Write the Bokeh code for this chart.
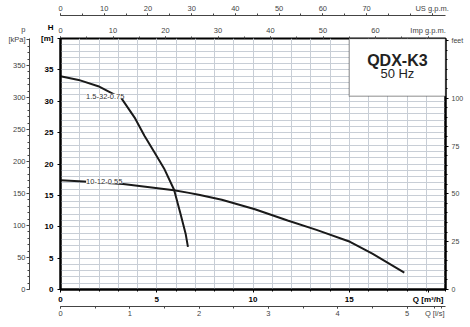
from bokeh.plotting import figure
from bokeh.models import LinearAxis, Range1d, FixedTicker, Grid, Label, BoxAnnotation
from bokeh.embed import file_html
from bokeh.resources import INLINE

# ---- data ----
q_a = [0, 0.94, 1.96, 3.16, 3.85, 4.36, 4.87, 5.38, 5.9, 6.24, 6.5, 6.62]
h_a = [34.0, 33.4, 32.4, 30.5, 27.4, 24.5, 21.9, 19.3, 15.9, 12.0, 8.9, 6.8]
q_b = [0, 1.2, 3.25, 5.9, 6.67, 7.18, 8.38, 10.1, 11.8, 13.3, 15.04, 16.2, 17.86]
h_b = [17.4, 17.2, 16.8, 15.8, 15.4, 15.1, 14.3, 12.8, 11.0, 9.5, 7.6, 5.7, 2.7]
name_a = "1.5-32-0.75"
name_b = "10-12-0.55"
title = "QDX-K3"
subtitle = "50 Hz"

q_ticks = [0, 5, 10, 15]
h_ticks = [0, 5, 10, 15, 20, 25, 30, 35]
kpa_ticks = [0, 50, 100, 150, 200, 250, 300, 350]
ft_ticks = [0, 25, 50, 75, 100]
ls_ticks = [0, 1, 2, 3, 4, 5]
us_ticks = [0, 10, 20, 30, 40, 50, 60, 70]
imp_ticks = [0, 10, 20, 30, 40, 50, 60]

# unit names, placed on their axes at these axis values
q_unit, q_unit_at = "Q [m³/h]", 19.1
ls_unit, ls_unit_at = "Q [l/s]", 5.4
us_unit, us_unit_at = "US g.p.m.", 85
imp_unit, imp_unit_at = "Imp g.p.m.", 70
h_unit, h_unit_at = "H\n[m]\n", 40
kpa_unit, kpa_unit_at = "p\n[kPa]\n", 390
ft_unit, ft_unit_at = "feet", 130

Q_MAX, H_MAX = 20, 40
FONT = "Liberation Sans"
GRAY = "#444444"
GRID = "#c8ced6"

p = figure(frame_width=385, frame_height=251,
           x_range=Range1d(0, Q_MAX), y_range=Range1d(0, H_MAX),
           x_axis_location=None, y_axis_location=None,
           output_backend="svg", toolbar_location=None,
           min_border=0)
p.outline_line_color = "black"
p.outline_line_width = 2
p.background_fill_color = "white"

p.extra_x_ranges = {"ls": Range1d(0, Q_MAX / 3.6),
                    "imp": Range1d(0, Q_MAX * 3.66615),
                    "us": Range1d(0, Q_MAX * 4.40287)}
p.extra_y_ranges = {"kpa": Range1d(0, H_MAX * 9.80665),
                    "ft": Range1d(0, H_MAX / 0.3048)}


def style(ax, size="7.5px", bold=False, color=GRAY, line_color=GRAY, lw=1,
          tout=3, mout=2, standoff=2, pad=None):
    ax.major_label_text_font = FONT
    ax.major_label_text_font_size = size
    ax.major_label_text_font_style = "bold" if bold else "normal"
    ax.major_label_text_color = color
    ax.axis_line_color = line_color
    ax.axis_line_width = lw
    ax.major_tick_line_color = line_color
    ax.minor_tick_line_color = line_color
    ax.major_tick_in = 0
    ax.minor_tick_in = 0
    ax.major_tick_out = tout
    ax.minor_tick_out = mout
    ax.major_label_standoff = standoff
    if pad is not None:
        ax.axis_label = " "
        ax.axis_label_text_font_size = "1px"
        ax.axis_label_standoff = pad
    return ax


# bottom axes
ax_q = LinearAxis(ticker=FixedTicker(ticks=q_ticks + [q_unit_at], minor_ticks=list(range(0, 21))),
                  major_label_overrides={q_unit_at: q_unit})
style(ax_q, size="8px", bold=True, color="black", line_color="black", lw=2,
      tout=3, mout=2, standoff=2)
p.add_layout(ax_q, "below")
ax_ls = LinearAxis(x_range_name="ls",
                   ticker=FixedTicker(ticks=ls_ticks + [ls_unit_at],
                                      minor_ticks=[i * 0.5 for i in range(12)]),
                   major_label_overrides={ls_unit_at: ls_unit})
style(ax_ls, tout=2, mout=2, standoff=0)
p.add_layout(ax_ls, "below")

# left axes
ax_h = LinearAxis(ticker=FixedTicker(ticks=h_ticks + [h_unit_at], minor_ticks=list(range(0, 41))),
                  major_label_overrides={h_unit_at: h_unit})
style(ax_h, size="8px", bold=True, color="black", line_color="black", lw=2,
      tout=3, mout=0, standoff=4, pad=4)
p.add_layout(ax_h, "left")
ax_kpa = LinearAxis(y_range_name="kpa",
                    ticker=FixedTicker(ticks=kpa_ticks + [kpa_unit_at],
                                       minor_ticks=list(range(0, 391, 10))),
                    major_label_overrides={kpa_unit_at: kpa_unit})
style(ax_kpa, size="7.5px", tout=3, mout=2, standoff=1, pad=1)
p.add_layout(ax_kpa, "left")

# right axis
ax_ft = LinearAxis(y_range_name="ft",
                   ticker=FixedTicker(ticks=ft_ticks + [ft_unit_at],
                                      minor_ticks=list(range(0, 131, 5))),
                   major_label_overrides={ft_unit_at: ft_unit})
style(ax_ft, size="7px", line_color="black", lw=2, tout=3, mout=2, standoff=3)
p.add_layout(ax_ft, "right")

# top axes
ax_imp = LinearAxis(x_range_name="imp",
                    ticker=FixedTicker(ticks=imp_ticks + [imp_unit_at],
                                       minor_ticks=list(range(0, 75, 5))),
                    major_label_overrides={imp_unit_at: imp_unit})
style(ax_imp, size="7.5px", tout=2, mout=2, standoff=2, pad=3)
ax_imp.axis_line_color = None
p.add_layout(ax_imp, "above")
ax_us = LinearAxis(x_range_name="us",
                   ticker=FixedTicker(ticks=us_ticks + [us_unit_at],
                                      minor_ticks=list(range(0, 90, 5))),
                   major_label_overrides={us_unit_at: us_unit})
style(ax_us, size="7.5px", tout=2, mout=2, standoff=1)
p.add_layout(ax_us, "above")

# grids (every 1 m3/h and every 1 m) drawn from the minor ticks
p.add_layout(Grid(dimension=0, axis=ax_q, grid_line_color=None,
                  minor_grid_line_color=GRID, minor_grid_line_width=1))
p.add_layout(Grid(dimension=1, axis=ax_h, grid_line_color=None,
                  minor_grid_line_color=GRID, minor_grid_line_width=1))

# curves
p.line(q_a, h_a, line_width=2, line_color="#1a1a1a")
p.line(q_b, h_b, line_width=2, line_color="#1a1a1a")

# title box
p.add_layout(BoxAnnotation(left=15, right=20, bottom=30.8, top=40,
                           fill_color="white", fill_alpha=1,
                           line_color="black", line_width=1.5))


def lab(text, x, y, size="7.5px", align="left", bold=False, color=GRAY, bg=None):
    kw = {}
    if bg:
        kw = dict(background_fill_color=bg, background_fill_alpha=1)
    p.add_layout(Label(x=x, y=y, text=text, text_font=FONT,
                       text_font_size=size, text_align=align, text_baseline="middle",
                       text_font_style="bold" if bold else "normal",
                       text_color=color, **kw))


lab(title, 17.5, 36.5, size="16px", align="center", bold=True, color="#222222")
lab(subtitle, 17.5, 34.5, size="13px", align="center", color="#222222")
lab(name_a, 1.33, 30.8, size="7.5px", color="#333333", bg="white")
lab(name_b, 1.33, 17.25, size="7.5px", color="#333333", bg="white")

open("out.html", "w").write(file_html(p, INLINE))
